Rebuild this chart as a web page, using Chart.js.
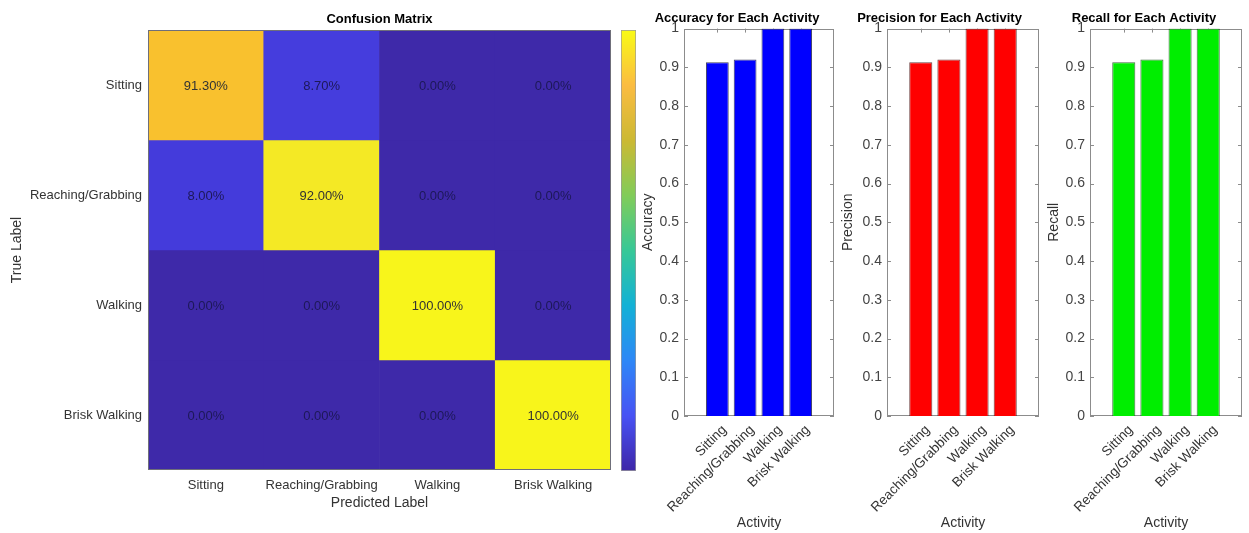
<!DOCTYPE html>
<html>
<head>
<meta charset="utf-8">
<title>Confusion matrix and per-activity metrics</title>
<script src="https://cdn.jsdelivr.net/npm/chart.js@4.4.0/dist/chart.umd.min.js"></script>
<style>
  html, body { margin: 0; padding: 0; background: #fff; }
  body { width: 1249px; height: 533px; position: relative; overflow: hidden; }
  .box { position: absolute; }
</style>
</head>
<body>
<div class="box" style="left:0;top:0;width:620px;height:533px"><canvas id="cm"></canvas></div>
<div class="box" style="left:621px;top:30px;width:15px;height:441px"><canvas id="cbar"></canvas></div>
<div class="box" style="left:640px;top:0;width:238px;height:533px"><canvas id="acc"></canvas></div>
<div class="box" style="left:840px;top:0;width:246px;height:533px"><canvas id="prec"></canvas></div>
<div class="box" style="left:1046px;top:0;width:240px;height:533px"><canvas id="rec"></canvas></div>

<script>
// ---------- Data ----------
const activities = ["Sitting", "Reaching/Grabbing", "Walking", "Brisk Walking"];

// confusion matrix rows (true label), values in % per predicted label
const cmSitting  = [91.30, 8.70, 0.00, 0.00];
const cmReaching = [8.00, 92.00, 0.00, 0.00];
const cmWalking  = [0.00, 0.00, 100.00, 0.00];
const cmBrisk    = [0.00, 0.00, 0.00, 100.00];

const accuracy  = [0.913, 0.92, 1.0, 1.0];
const precision = [0.913, 0.92, 1.0, 1.0];
const recall    = [0.913, 0.92, 1.0, 1.0];

// ---------- Styles ----------
const cmRows = [cmSitting, cmReaching, cmWalking, cmBrisk];
const nRows = cmRows.length;

// cell colours as they appear in the picture
const cellColors = [
  ["#F9C12E", "#453DDD", "#3E29A9", "#3E29A9"],
  ["#443BDB", "#F4E925", "#3E29A9", "#3E29A9"],
  ["#3E29A9", "#3E29A9", "#F8F51B", "#3E29A9"],
  ["#3E29A9", "#3E29A9", "#3E29A9", "#F8F51B"]
];

// parula-like colorbar, bottom to top
const parula = ["#3E26A8", "#4852F4", "#2E87F7", "#12B1D6", "#37C897",
                "#81CC59", "#CCB933", "#FBBC41", "#F9FB15"];

Chart.defaults.font.family = '"Liberation Sans", Arial, Helvetica, sans-serif';
Chart.defaults.color = "#333";

// ---------- Plugins ----------
// percent text inside each heatmap cell
const cellText = {
  id: "cellText",
  afterDatasetsDraw(chart) {
    const ctx = chart.ctx;
    ctx.save();
    ctx.font = '13px "Liberation Sans", Arial, sans-serif';
    ctx.textAlign = "center";
    ctx.textBaseline = "middle";
    chart.data.datasets.forEach((ds, r) => {
      chart.getDatasetMeta(r).data.forEach((bar, c) => {
        const v = cmRows[r][c];
        ctx.fillStyle = v > 50 ? "#333333" : "#1d1858";
        ctx.fillText(v.toFixed(2) + "%", bar.x, (bar.y + bar.base) / 2 + 1);
      });
    });
    ctx.restore();
  }
};

// matlab-ish axes box with inward ticks (drawn under the bars)
const boxTicks = {
  id: "boxTicks",
  beforeDatasetsDraw(chart, args, opts) {
    const { ctx, chartArea: a, scales } = chart;
    const len = opts.len || 4;
    ctx.save();
    ctx.strokeStyle = opts.color || "#8c8c8c";
    ctx.lineWidth = 1;
    ctx.beginPath();
    scales.y.ticks.forEach((t, i) => {
      const py = Math.round(scales.y.getPixelForTick(i)) + 0.5;
      ctx.moveTo(a.left, py); ctx.lineTo(a.left + len, py);
      ctx.moveTo(a.right, py); ctx.lineTo(a.right - len, py);
    });
    scales.x.ticks.forEach((t, i) => {
      const px = Math.round(scales.x.getPixelForTick(i)) + 0.5;
      ctx.moveTo(px, a.top); ctx.lineTo(px, a.top + len);
      ctx.moveTo(px, a.bottom); ctx.lineTo(px, a.bottom - len);
    });
    ctx.stroke();
    ctx.strokeRect(Math.round(a.left) + 0.5, Math.round(a.top) + 0.5,
                   Math.round(a.width) - 1, Math.round(a.height) - 1);
    ctx.restore();
  }
};

// thin frame round the heatmap, on top of the cells
const frame = {
  id: "frame",
  afterDatasetsDraw(chart) {
    const { ctx, chartArea: a } = chart;
    ctx.save();
    ctx.strokeStyle = "#6f6f7a";
    ctx.lineWidth = 1;
    ctx.strokeRect(a.left + 0.5, a.top + 0.5, a.width - 1, a.height - 1);
    ctx.restore();
  }
};

// ---------- Confusion matrix ----------
new Chart(document.getElementById("cm"), {
  type: "bar",
  data: {
    labels: activities,
    datasets: cmRows.map((row, r) => ({
      label: activities[r],
      data: row.map(() => [nRows - 1 - r, nRows - r]),
      backgroundColor: cellColors[r],
      borderWidth: 0,
      grouped: false,
      barPercentage: 1,
      categoryPercentage: 1
    }))
  },
  options: {
    responsive: true,
    maintainAspectRatio: false,
    animation: false,
    layout: { padding: { right: 9 } },
    plugins: {
      legend: { display: false },
      tooltip: { enabled: false },
      title: {
        display: true, text: "Confusion Matrix", fullSize: false, color: "#000",
        font: { size: 13, weight: "bold" }, padding: { top: 12, bottom: 2.4 }
      }
    },
    scales: {
      x: {
        grid: { display: false, drawTicks: false },
        border: { display: false },
        ticks: { font: { size: 13 }, color: "#333", padding: 8, maxRotation: 0, minRotation: 0 },
        title: { display: true, text: "Predicted Label", font: { size: 14 }, color: "#333",
                 padding: { top: 0, bottom: 21 } },
        afterFit: s => { s.height = 63; }
      },
      y: {
        min: 0, max: nRows,
        grid: { display: false, drawTicks: false },
        border: { display: false },
        afterBuildTicks: s => { s.ticks = activities.map((_, r) => ({ value: nRows - r - 0.5 })); },
        ticks: {
          font: { size: 13 }, color: "#333", padding: 6,
          callback: v => activities[nRows - 1 - Math.floor(v)]
        },
        title: { display: true, text: "True Label", font: { size: 14 }, color: "#333",
                 padding: { top: 8.6, bottom: 0 } },
        afterFit: s => { s.width = 148; }
      }
    }
  },
  plugins: [cellText, frame]
});

// ---------- Colorbar ----------
function parulaGradient(c) {
  const a = c.chart.chartArea;
  if (!a) return parula[0];
  const g = c.chart.ctx.createLinearGradient(0, a.bottom, 0, a.top);
  parula.forEach((col, i) => g.addColorStop(i / (parula.length - 1), col));
  return g;
}

new Chart(document.getElementById("cbar"), {
  type: "bar",
  data: {
    labels: [""],
    datasets: [{
      data: [[0, 100]],
      backgroundColor: parulaGradient,
      borderColor: "#9a9a9a",
      borderWidth: 1,
      borderSkipped: false,
      barPercentage: 1,
      categoryPercentage: 1
    }]
  },
  options: {
    responsive: true,
    maintainAspectRatio: false,
    animation: false,
    layout: { padding: 0 },
    plugins: { legend: { display: false }, tooltip: { enabled: false } },
    scales: {
      x: { display: false },
      y: { display: false, min: 0, max: 100 }
    }
  }
});

// ---------- Per-activity bar charts ----------
// canvas is as wide as needed to centre the title over the plot
function activityChart(id, title, yLabel, values, fill, edge, yWidth, padRight) {
  return new Chart(document.getElementById(id), {
    type: "bar",
    data: {
      datasets: [{
        data: values.map((v, i) => ({ x: i + 1, y: v })),
        backgroundColor: fill,
        borderColor: edge,
        borderWidth: 1,
        barPercentage: 0.82,
        categoryPercentage: 1
      }]
    },
    options: {
      responsive: true,
      maintainAspectRatio: false,
      animation: false,
      layout: { padding: { right: padRight } },
      plugins: {
        legend: { display: false },
        tooltip: { enabled: false },
        title: {
          display: true, text: title, color: "#000",
          font: { size: 13, weight: "bold" }, padding: { top: 11, bottom: 2 }
        },
        boxTicks: { color: "#8c8c8c", len: 4 }
      },
      scales: {
        x: {
          type: "linear", min: -0.2, max: 5.2, offset: false,
          grid: { display: false, drawTicks: false },
          border: { display: false },
          afterBuildTicks: s => { s.ticks = activities.map((_, i) => ({ value: i + 1 })); },
          ticks: {
            autoSkip: false, minRotation: 45, maxRotation: 45,
            font: { size: 13.5 }, color: "#333", padding: 6, labelOffset: 7,
            callback: v => activities[v - 1]
          },
          title: { display: true, text: "Activity", font: { size: 14 }, color: "#333",
                   padding: { top: 0, bottom: 1 } },
          afterFit: s => { s.height = 117; }
        },
        y: {
          min: 0, max: 1,
          grid: { display: false, drawTicks: false },
          border: { display: false },
          ticks: {
            stepSize: 0.1, font: { size: 14 }, color: "#444", padding: 5,
            callback: v => String(+v.toFixed(1))
          },
          title: { display: true, text: yLabel, font: { size: 14 }, color: "#333",
                   padding: { top: 0, bottom: 0 } },
          afterFit: s => { s.width = yWidth; }
        }
      }
    },
    plugins: [boxTicks]
  });
}

activityChart("acc", "Accuracy for Each Activity", "Accuracy", accuracy,
              "#0000FF", "rgba(0,0,40,0.75)", 44, 44);
activityChart("prec", "Precision for Each Activity", "Precision", precision,
              "#FF0000", "rgba(60,0,0,0.75)", 47, 47);
activityChart("rec", "Recall for Each Activity", "Recall", recall,
              "#00EE00", "rgba(0,60,0,0.75)", 44, 44);
</script>
</body>
</html>
